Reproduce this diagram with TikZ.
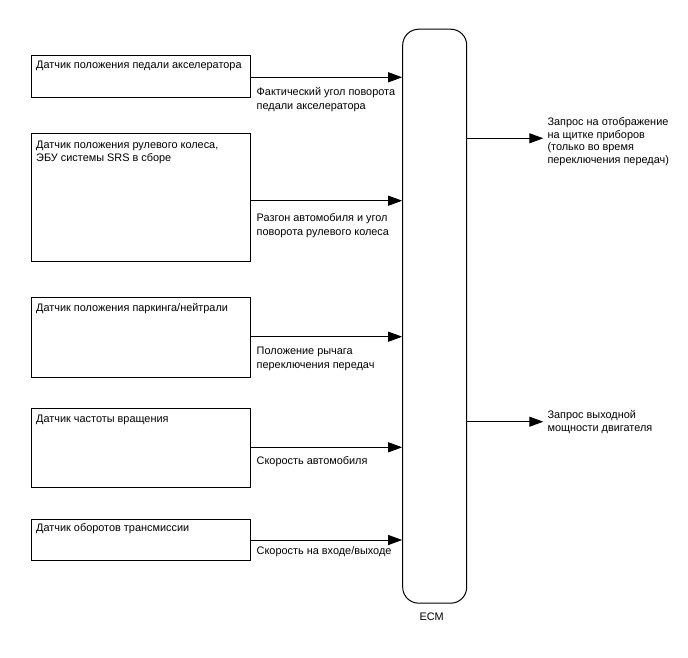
\documentclass[tikz,border=0pt]{standalone}
\usepackage{fontspec}
\setmainfont{Liberation Sans}
\usetikzlibrary{arrows.meta,calc}
\begin{document}
\begin{tikzpicture}[x=1pt,y=-1pt,
  sensorbox/.style={draw,line width=1pt,anchor=north west,minimum width=219pt,inner sep=0pt},
  boxtext/.style={anchor=north west,inner sep=0pt,align=left,font=\fontsize{10.9}{12.7}\selectfont},
  sigtext/.style={anchor=north west,inner sep=0pt,align=left,font=\fontsize{10.9}{13.5}\selectfont},
  ecmbox/.style={draw,line width=1pt,rounded corners=16pt,minimum width=64pt,minimum height=574pt,inner sep=0pt},
  sig/.style={line width=1pt,-{Triangle[length=14pt,width=10pt]}}]
\useasboundingbox (0,0) rectangle (688,658);
% sensor boxes
\node[sensorbox,minimum height=42pt] (s1) at (31,55) {};
\node[sensorbox,minimum height=128pt] (s2) at (31,132.7) {};
\node[sensorbox,minimum height=79.4pt] (s3) at (31,297.3) {};
\node[sensorbox,minimum height=78.4pt] (s4) at (31,408.3) {};
\node[sensorbox,minimum height=41.3pt] (s5) at (31,519) {};
\node[boxtext] (t1) at (36,60.5) {Датчик положения педали акселератора};
\node[boxtext] (t2) at (36,141.2) {Датчик положения рулевого колеса,\\ЭБУ системы SRS в сборе};
\node[boxtext] (t3) at (36,302.8) {Датчик положения паркинга/нейтрали};
\node[boxtext] (t4) at (36,414.5) {Датчик частоты вращения};
\node[boxtext] (t5) at (36,523.8) {Датчик оборотов трансмиссии};
% ECM
\node[ecmbox] (ecm) at (434.7,316.2) {};
\node[font=\fontsize{10.9}{12}\selectfont,inner sep=0pt] (ecml) at (431.7,616.7) {ECM};
% arrow levels
\coordinate (y1) at (0,77.3);
\coordinate (y2) at (0,200.7);
\coordinate (y3) at (0,336.7);
\coordinate (y4) at (0,447.3);
\coordinate (y5) at (0,540);
\coordinate (yo1) at (0,138.3);
\coordinate (yo2) at (0,421.7);
\coordinate (xo) at (543.3,0);
\draw[sig] (s1.east |- y1) -- (ecm.west |- y1);
\draw[sig] (s2.east |- y2) -- (ecm.west |- y2);
\draw[sig] (s3.east |- y3) -- (ecm.west |- y3);
\draw[sig] (s4.east |- y4) -- (ecm.west |- y4);
\draw[sig] (s5.east |- y5) -- (ecm.west |- y5);
\coordinate (o1) at (xo |- yo1);
\coordinate (o2) at (xo |- yo2);
\draw[sig] (ecm.east |- yo1) -- (o1);
\draw[sig] (ecm.east |- yo2) -- (o2);
% signal labels
\node[sigtext] (l1) at (256.5,87.5) {Фактический угол поворота\\педали акселератора};
\node[sigtext] (l2) at (256.5,213.5) {Разгон автомобиля и угол\\поворота рулевого колеса};
\node[sigtext] (l3) at (256.5,347.2) {Положение рычага\\переключения передач};
\node[sigtext] (l4) at (256.5,456.2) {Скорость автомобиля};
\node[sigtext] (l5) at (256.5,546.8) {Скорость на входе/выходе};
\node[boxtext] (r1) at (547.3,117.2) {Запрос на отображение\\на щитке приборов\\(только во время\\переключения передач)};
\node[boxtext] (r2) at (547.3,410.2) {Запрос выходной\\мощности двигателя};
\end{tikzpicture}
\end{document}
